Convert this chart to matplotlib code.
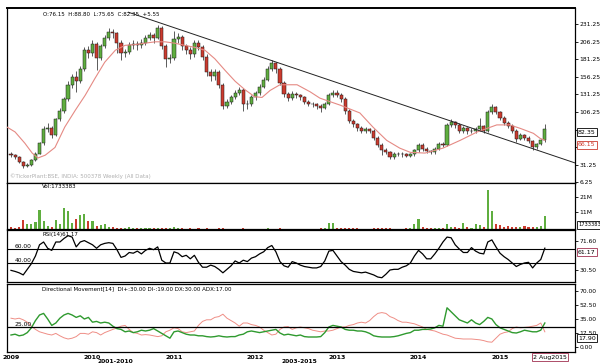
import numpy as np
import matplotlib.pyplot as plt

W, H = 600, 364

# ---- data (one point every 0.05 year) ----
dates = 2009.0 + 0.05 * np.arange(132)

close = [45, 42, 36, 30, 31, 38, 47, 62, 82, 84,
         74, 96, 108, 125, 145, 156, 150, 168, 195, 190,
         203, 183, 200, 212, 220, 218, 205, 190, 191, 202,
         203, 201, 205, 212, 215, 212, 225, 200, 182, 183,
         210, 213, 200, 195, 188, 205, 199, 185, 163, 157,
         163, 145, 115, 121, 128, 133, 138, 118, 118, 127,
         133, 142, 152, 168, 176, 168, 148, 132, 126, 132,
         130, 127, 120, 118, 117, 115, 112, 118, 130, 134,
         131, 125, 108, 94, 89, 84, 80, 82, 80, 70,
         60, 53, 49, 42, 47, 47, 46, 44, 46, 52,
         60, 54, 51, 49, 54, 61, 60, 88, 92, 88,
         80, 83, 79, 80, 82, 86, 80, 106, 113, 106,
         98, 91, 87, 80, 68, 73, 70, 65, 56, 61,
         66, 82.35]

high = [50, 47, 44, 37, 34, 40, 49, 64, 86, 90,
        86, 98, 112, 128, 150, 160, 165, 172, 199, 200,
        208, 206, 203, 215, 226, 224, 220, 208, 196, 206,
        208, 207, 210, 216, 220, 218, 230, 228, 203, 188,
        222, 218, 215, 203, 198, 209, 208, 201, 188, 167,
        168, 166, 148, 125, 131, 137, 142, 140, 123, 130,
        136, 146, 156, 172, 180, 178, 170, 150, 135, 136,
        135, 132, 129, 123, 121, 119, 117, 121, 133, 138,
        137, 133, 127, 110, 96, 91, 86, 85, 84, 82,
        72, 62, 55, 51, 49, 50, 49, 48, 48, 54,
        63, 62, 56, 53, 57, 64, 64, 91, 96, 94,
        90, 86, 85, 83, 85, 98, 88, 109, 117, 115,
        108, 100, 93, 89, 82, 76, 75, 72, 67, 63,
        68, 88.8]

low = [42, 40, 34, 27, 28, 30, 37, 46, 60, 78,
       70, 72, 94, 105, 122, 140, 135, 147, 165, 183,
       186, 166, 180, 197, 209, 212, 190, 180, 185, 188,
       196, 195, 197, 202, 208, 205, 210, 196, 170, 176,
       180, 205, 195, 188, 182, 185, 194, 180, 158, 150,
       152, 140, 110, 112, 118, 125, 130, 108, 110, 115,
       124, 130, 140, 150, 165, 162, 145, 128, 122, 124,
       126, 123, 117, 115, 114, 111, 106, 110, 116, 128,
       128, 121, 104, 90, 85, 80, 77, 76, 77, 67,
       57, 45, 46, 39, 40, 44, 43, 42, 42, 44,
       50, 51, 48, 46, 47, 52, 56, 58, 85, 84,
       77, 77, 75, 76, 77, 80, 77, 78, 104, 103,
       95, 88, 84, 77, 64, 66, 67, 62, 53, 54,
       59, 64]

first_open = 47

volume_m = [1.0, 0.8, 1.2, 6, 3.3, 3, 4.7, 12.7, 5, 2,
            1.2, 6, 3, 14, 12, 4, 6.7, 9.3, 10, 5.3,
            5.3, 2, 2.5, 3.3, 1, 1.5, 0.6, 0.5, 0.5, 1,
            0.5, 0.4, 0.5, 0.4, 0.5, 0.4, 0.5, 0.6, 0.5, 0.4,
            1.3, 0.4, 0.4, 0.3, 0.4, 0.3, 0.4, 0.3, 0.4, 0.3,
            0.3, 0.4, 0.5, 0.3, 0.3, 0.3, 0.3, 0.4, 0.3, 0.3,
            0.3, 0.3, 0.3, 0.4, 0.3, 0.3, 0.4, 0.3, 0.3, 0.3,
            0.3, 0.3, 0.3, 0.3, 0.3, 0.3, 0.4, 0.5, 4, 4,
            0.6, 0.4, 0.5, 0.5, 0.4, 0.4, 0.3, 0.3, 0.3, 0.4,
            0.4, 0.5, 0.4, 0.4, 0.3, 0.3, 0.3, 0.4, 0.5, 3,
            6.7, 1.5, 0.8, 0.6, 0.6, 0.8, 0.8, 3, 1.2, 1,
            0.8, 4, 1.5, 0.8, 3, 2.7, 1.5, 26, 12, 3,
            2.5, 1.5, 2, 1, 1.5, 1, 2, 1, 1, 1.5,
            2, 8.7]

rsi = [29.5, 28, 26, 23, 31, 39, 50, 66, 70, 61,
       58, 70, 70, 75, 79, 77, 63, 70, 72, 69,
       66, 61, 66, 68, 69, 68, 59, 48, 50, 55,
       54, 57, 53, 58, 61, 59, 63, 44, 40, 40,
       56, 54, 49, 51, 46, 51, 41, 34, 34, 37,
       35, 31, 26, 31, 36, 43, 40, 44, 42, 47,
       49, 53, 56, 62, 65, 56, 42, 36, 34, 42,
       40, 37, 35, 34, 33, 33, 35, 43, 57, 58,
       50, 42, 37, 31, 28, 27, 26, 27, 25, 23,
       20, 19, 24, 30, 31, 31, 34, 36, 40, 50,
       58, 53, 46, 46, 53, 61, 70, 77, 76, 66,
       60, 55, 55, 62, 57, 54, 53, 70, 73, 63,
       54, 49, 45, 40, 35, 38, 40, 41, 33, 40,
       45, 61.17]

di_plus = [15, 16, 14, 15, 18, 24, 33, 40, 42, 35,
           27, 30, 36, 40, 42, 40, 37, 39, 35, 37,
           31, 32, 30, 31, 30, 26, 23, 22, 19, 20,
           18, 19, 21, 20, 21, 23, 20, 17, 14, 11,
           19, 20, 18, 16, 15, 15, 14, 14, 13, 12.5,
           13, 14, 13, 12.5, 13, 13, 15, 16, 19, 20,
           19, 18, 19, 20, 21, 22, 17.5, 15, 16, 15,
           14, 15, 13, 12.5, 12.5, 12.5, 13, 18, 25, 27,
           26, 25, 22, 21, 21, 20, 20, 19, 17, 14,
           13, 12.5, 12.5, 12.5, 13, 14, 15.5, 17, 18, 21,
           21, 22, 22, 22.5, 24, 27, 26, 49, 44, 39,
           34, 32, 30, 34, 30, 28, 32, 37, 35, 28,
           24, 22, 20, 18, 17.5, 19, 21, 20, 19, 19,
           21, 30]

di_minus = [36, 35, 36, 34, 31, 26, 22, 19, 17.5, 16,
            15, 17, 14, 11.5, 10, 11, 13, 17, 17, 16,
            19, 18, 15, 18, 20, 22, 24, 26, 27, 22,
            18, 17, 15, 15.5, 15, 14, 13, 14, 19, 21,
            24, 23, 19, 18, 19, 20, 27, 32, 34, 34,
            37, 38, 41, 36, 33, 30, 26, 30, 30, 28,
            27, 25, 21, 18, 15, 16, 22, 25, 25.5, 22,
            24, 25, 24, 23, 21, 20, 19, 20, 20, 21,
            23, 25, 25, 27, 28, 30, 31, 30, 33, 38,
            42, 43, 42, 38, 36, 33, 31, 31, 30, 29,
            27, 25, 22, 21, 20, 18, 16, 15, 13, 11,
            10.5, 10, 10, 10, 9.5, 9, 8, 6.5, 6, 11,
            16, 18, 19, 23, 25, 24, 24.5, 25, 26, 27,
            30, 19]

ma_dates = [2008.95, 2009.05, 2009.17, 2009.26, 2009.33, 2009.42, 2009.54, 2009.66,
            2009.79, 2009.91, 2010.03, 2010.15, 2010.28, 2010.40, 2010.52, 2010.64,
            2010.77, 2010.89, 2011.01, 2011.13, 2011.26, 2011.38, 2011.50, 2011.63,
            2011.75, 2011.87, 2011.99, 2012.08, 2012.18, 2012.30, 2012.51, 2012.67,
            2012.79, 2013.04, 2013.28, 2013.44, 2013.61, 2013.77, 2013.90, 2014.08,
            2014.30, 2014.51, 2014.72, 2014.84, 2014.96, 2015.12, 2015.25, 2015.41,
            2015.49, 2015.55]
ma_vals = [85, 78, 62, 48, 41, 45, 56, 85,
           109, 130, 154, 177, 194, 201, 202, 204,
           206, 206, 204, 201, 198, 194, 182, 165,
           150, 138, 128, 127, 137, 145, 145, 135,
           126, 116, 105, 85, 66, 55, 49, 48,
           55, 66, 78, 83, 88, 88, 83, 76,
           69, 66.15]

trend_dates = [2010.44, 2015.92]
trend_vals = [248, 34]

years = [2009, 2010, 2011, 2012, 2013, 2014, 2015]
price_ticks = [6.25, 31.25, 56.25, 81.25, 106.25, 131.25, 156.25, 181.25, 206.25, 231.25]
hidden_ticks = [56.25, 81.25]   # covered by the value boxes

GREEN = '#5fae3f'
RED = '#cc3b2e'


def box(x0, y0, x1, y1):
    return [x0 / W, 1 - y1 / H, (x1 - x0) / W, (y1 - y0) / H]


def ftext(x, y, s, **kw):
    fig.text(x / W, 1 - y / H, s, **kw)


fig = plt.figure(figsize=(6, 3.64), dpi=100)
ax_p = fig.add_axes(box(7, 8, 575, 183))
ax_v = fig.add_axes(box(7, 183, 575, 229))
ax_r = fig.add_axes(box(7, 230, 575, 282))
ax_d = fig.add_axes(box(7, 284, 575, 352))

for ax in (ax_p, ax_v, ax_r, ax_d):
    ax.set_xlim(2008.951, 2015.92)
    for s in ax.spines.values():
        s.set_linewidth(0.9)
    ax.yaxis.tick_right()
    ax.tick_params(axis='y', length=2, width=0.6, pad=1, labelsize=4.3)
    ax.tick_params(axis='x', length=0, labelbottom=False)
ax_p.spines['top'].set_linewidth(1.4)

# ---- price candles ----
c = np.array(close, dtype=float)
o = np.r_[first_open, c[:-1]]
up = c >= o
cols = np.where(up, GREEN, RED)
ax_p.vlines(dates, low, high, color='#1a1a1a', lw=0.5, zorder=2)
ax_p.bar(dates, np.abs(c - o), bottom=np.minimum(o, c), width=0.038,
         color=cols, edgecolor='#1a1a1a', linewidth=0.35, zorder=3)
ax_p.plot(ma_dates, ma_vals, color='#e58a84', lw=0.8, zorder=4)
ax_p.plot(trend_dates, trend_vals, color='#222222', lw=0.7, zorder=4)
ax_p.set_ylim(5.5, 254)
ax_p.set_yticks(price_ticks)
ax_p.set_yticklabels(['' if v in hidden_ticks else '%.2f' % v for v in price_ticks])
ax_p.text(0.063, 0.975, 'O:76.15  H:88.80  L:75.65  C:82.35  +5.55',
          transform=ax_p.transAxes, fontsize=4, va='top')
ax_p.text(0.006, 0.025, '\u00a9TickerPlant:BSE, INDIA: 500378 Weekly (All Data)',
          transform=ax_p.transAxes, fontsize=4, color='#b0b0b0', va='bottom')

# ---- volume ----
ax_v.bar(dates, np.array(volume_m) * 1e6, width=0.026, color=cols, linewidth=0)
ax_v.set_ylim(0, 30.5e6)
ax_v.set_yticks([11e6, 21e6])
ax_v.set_yticklabels(['11M', '21M'])
ax_v.text(0.062, 0.97, 'Vol:1733383', transform=ax_v.transAxes, fontsize=4, va='top')

# ---- RSI ----
ax_r.plot(dates, rsi, color='black', lw=0.9)
ax_r.axhline(60, color='black', lw=0.8)
ax_r.axhline(40, color='black', lw=0.8)
ax_r.set_ylim(12.9, 87.1)
ax_r.set_yticks([30.5, 71.6])
ax_r.set_yticklabels(['30.50', '71.60'])
ax_r.text(0.062, 0.97, 'RSI(14)61.17', transform=ax_r.transAxes, fontsize=4, va='top')
ax_r.text(0.014, 60.8, '60.00', fontsize=4.3, transform=ax_r.get_yaxis_transform())
ax_r.text(0.014, 40.8, '40.00', fontsize=4.3, transform=ax_r.get_yaxis_transform())

# ---- directional movement ----
ax_d.plot(dates, di_minus, color='#ef8e86', lw=0.7)
ax_d.plot(dates, di_plus, color='#2f9a2f', lw=1.0)
ax_d.axhline(25, color='black', lw=0.9)
ax_d.set_ylim(-6.25, 78.75)
dm_ticks = [0, 17.5, 35, 52.5, 70]
ax_d.set_yticks(dm_ticks)
ax_d.set_yticklabels(['%.2f' % v for v in dm_ticks])
ax_d.text(0.062, 0.97, 'Directional Movement[14]  DI+:30.00 DI-:19.00 DX:30.00 ADX:17.00',
          transform=ax_d.transAxes, fontsize=4, va='top')
ax_d.text(0.014, 25.8, '25.00', fontsize=4.3, transform=ax_d.get_yaxis_transform())
ax_d.set_xticks(years)
ax_d.set_xticklabels([str(y) for y in years], fontsize=4.5, fontweight='bold')
ax_d.tick_params(axis='x', labelbottom=True, length=0, pad=2)

# ---- value boxes on the right ----
bb = dict(boxstyle='square,pad=0.2', fc='white', ec='black', lw=0.6)
ftext(578, 132, '82.35', fontsize=4.5, va='center', bbox=bb)
ftext(578, 145, '66.15', fontsize=4.5, va='center', color=RED,
      bbox=dict(boxstyle='square,pad=0.2', fc='white', ec=RED, lw=0.6))
ftext(578, 225, '1733383', fontsize=3.7, va='center', bbox=bb)
ftext(578, 252, '61.17', fontsize=4.5, va='center',
      bbox=dict(boxstyle='square,pad=0.2', fc='white', ec='#a03050', lw=0.6))
ftext(578, 338, '17.90', fontsize=4.5, va='center', bbox=bb)
ftext(533, 357, '2 Aug2015', fontsize=4.5, va='center',
      bbox=dict(boxstyle='square,pad=0.2', fc='white', ec='#a03050', lw=0.6))
ftext(98, 359, '2001-2010', fontsize=4.3, va='top', fontweight='bold')
ftext(282, 359, '2003-2015', fontsize=4.3, va='top', fontweight='bold')

fig.savefig('out.png', dpi=100)
